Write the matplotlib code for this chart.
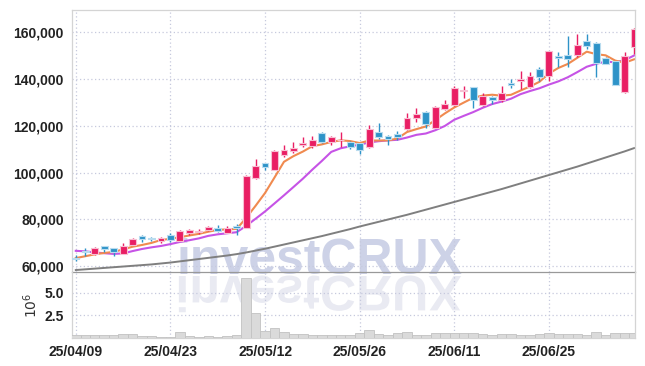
import matplotlib
matplotlib.use('Agg')
import matplotlib.pyplot as plt
import numpy as np
from matplotlib.textpath import TextPath
from matplotlib.patches import PathPatch
from matplotlib.font_manager import FontProperties
from matplotlib.transforms import Affine2D, IdentityTransform
from matplotlib.ticker import FuncFormatter, FixedLocator

dates = ["25/04/09", "25/04/10", "25/04/11", "25/04/14", "25/04/15", "25/04/16", "25/04/17", "25/04/18", "25/04/21", "25/04/22",
         "25/04/23", "25/04/24", "25/04/25", "25/04/28", "25/04/29", "25/04/30", "25/05/02", "25/05/07", "25/05/08", "25/05/09",
         "25/05/12", "25/05/13", "25/05/14", "25/05/15", "25/05/16", "25/05/19", "25/05/20", "25/05/21", "25/05/22", "25/05/23",
         "25/05/26", "25/05/27", "25/05/28", "25/05/29", "25/05/30", "25/06/02", "25/06/04", "25/06/05", "25/06/09", "25/06/10",
         "25/06/11", "25/06/12", "25/06/13", "25/06/16", "25/06/17", "25/06/18", "25/06/19", "25/06/20", "25/06/23", "25/06/24",
         "25/06/25", "25/06/26", "25/06/27", "25/06/30", "25/07/01", "25/07/02", "25/07/03", "25/07/04", "25/07/07", "25/07/08"]

opens = [63600, 66300, 65100, 68700, 67800, 65380, 69100, 73080, 72220, 70940,
         73380, 70940, 74230, 74790, 75510, 76370, 74360, 77220, 76500, 97600,
         104150, 101150, 107560, 109400, 111840, 111410, 116840, 113250, 113800, 113000,
         112560, 111110, 117520, 115690, 116410, 118550, 123500, 126070, 119230, 127220,
         128930, 134790, 136500, 128930, 132480, 131070, 138200, 139310, 136500, 144320,
         141460, 150000, 150430, 150430, 156410, 155550, 148890, 147740, 134620, 153850]

closes = [63300, 66000, 67950, 67400, 66000, 68680, 71800, 71670, 71800, 72220,
          71240, 75210, 75380, 75210, 76790, 75210, 76370, 76240, 98590, 102860,
          102560, 109400, 109830, 110680, 112700, 113980, 113250, 115130, 114100, 111110,
          109700, 118680, 115130, 114400, 115130, 123500, 124960, 120810, 128080, 129230,
          136330, 135340, 131070, 132780, 131070, 134190, 137350, 140170, 141450, 141030,
          152010, 149150, 148720, 154570, 154140, 146750, 146580, 137600, 149870, 161420]

highs = [65000, 67700, 68400, 68800, 68000, 69830, 72220, 73500, 72650, 72400,
         74100, 75510, 76070, 75810, 77220, 77780, 77350, 78080, 99150, 105730,
         104300, 109830, 111840, 113250, 115260, 115690, 117520, 115810, 117520, 113550,
         112800, 120380, 121110, 115900, 117950, 125640, 127520, 126300, 128500, 131070,
         137050, 137050, 136700, 133930, 132700, 137050, 140040, 143590, 143160, 145300,
         152200, 151450, 158420, 159140, 159140, 155700, 149310, 147900, 151710, 161970]

lows = [62300, 64400, 65000, 65980, 64530, 65200, 69000, 70510, 70810, 69960,
        70510, 70800, 73500, 73800, 75210, 74660, 74200, 73380, 76300, 97400,
        101150, 101000, 106840, 108290, 111110, 110430, 112560, 111840, 110850, 110000,
        107860, 110430, 114270, 111840, 113980, 118300, 121800, 119230, 118970, 127000,
        128700, 132050, 127520, 128700, 129360, 130340, 136330, 135640, 136070, 139310,
        139190, 145300, 145300, 149570, 152730, 141030, 146400, 137400, 133930, 150600]

ma5 = [63500, 64300, 65100, 65700, 66130, 67210, 68370, 69110, 69990, 71230,
       71750, 72430, 73170, 73850, 74770, 75560, 75790, 75960, 80640, 85850,
       91320, 97930, 104650, 107070, 109030, 111320, 112090, 113150, 113830, 113510,
       112660, 113740, 113740, 113800, 114610, 117370, 118620, 119760, 122500, 125320,
       127880, 129960, 132010, 132950, 133320, 132890, 133290, 135110, 136850, 138840,
       142400, 144760, 146470, 149100, 151720, 150670, 150150, 147930, 146990, 148440]

ma10 = [66600, 66400, 65900, 65600, 65300, 65500, 66500, 67400, 68100, 68680,
        69480, 70400, 71140, 71920, 73000, 73660, 74110, 74570, 77250, 80310,
        83440, 86860, 90310, 93860, 97440, 101320, 105010, 108900, 110450, 111270,
        111990, 112920, 113450, 113820, 114060, 115020, 116180, 116750, 118150, 119970,
        122630, 124290, 125890, 127730, 129320, 130390, 131630, 133560, 134900, 136080,
        137650, 139030, 140790, 142980, 145280, 146540, 147460, 147200, 148050, 150080]

ma_long = [58400, 58700, 59000, 59300, 59600, 59900, 60200, 60500, 60800, 61200,
           61600, 62100, 62600, 63100, 63600, 64100, 64600, 65200, 65900, 66700,
           67500, 68400, 69300, 70200, 71100, 72000, 72900, 73900, 74900, 75900,
           77000, 78000, 79000, 80000, 81000, 82000, 83100, 84200, 85300, 86400,
           87500, 88600, 89700, 90800, 91900, 93000, 94200, 95400, 96600, 97800,
           99000, 100200, 101400, 102600, 103900, 105200, 106500, 107800, 109100, 110500]

volumes = [0.34, 0.34, 0.34, 0.34, 0.34, 0.49, 0.49, 0.22, 0.22, 0.11,
           0.11, 0.67, 0.26, 0.11, 0.22, 0.11, 0.26, 0.34, 6.6, 2.8,
           0.78, 1.12, 0.71, 0.45, 0.45, 0.37, 0.37, 0.37, 0.37, 0.37,
           0.6, 0.9, 0.49, 0.37, 0.52, 0.67, 0.34, 0.37, 0.52, 0.6,
           0.6, 0.52, 0.52, 0.45, 0.34, 0.45, 0.45, 0.37, 0.34, 0.45,
           0.6, 0.45, 0.45, 0.45, 0.3, 0.67, 0.3, 0.56, 0.56, 0.56]

price_ticks = [60000, 80000, 100000, 120000, 140000, 160000]
vol_ticks = [2.5, 5.0]
vol_tick_labels = ["2.5", "5.0"]
xtick_idx = [0, 10, 20, 30, 40, 50]

UP = '#E91E63'
DOWN = '#2E93C8'
GRID = '#c6c9dd'
TICKFONT = ['Liberation Sans', 'DejaVu Sans']

W, H = 645, 366
fig = plt.figure(figsize=(W / 100, H / 100), dpi=100)
fig.patch.set_facecolor('white')
L, R = 72 / W, 635 / W
ax = fig.add_axes([L, 1 - 272 / H, R - L, (272 - 10) / H])
axv = fig.add_axes([L, 1 - 338 / H, R - L, (338 - 272) / H], sharex=ax)
for a in (ax, axv):
    a.patch.set_alpha(0)

x = np.arange(len(dates))
o = np.array(opens, float)
c = np.array(closes, float)
hi = np.array(highs, float)
lo = np.array(lows, float)
up = c >= o
cols = np.where(up, UP, DOWN)
halo = np.where(up, '#f7bfd2', '#b9dcef')

# moving averages
ax.plot(x, ma_long, color='#7f7f7f', lw=1.4, zorder=2)
ax.plot(x, ma10, color='#c653e6', lw=1.5, zorder=2)
ax.plot(x, ma5, color='#f08a4f', lw=1.5, zorder=2)

# candles
ax.vlines(x, lo, hi, colors=cols, lw=1.0, zorder=3)
bottoms = np.minimum(o, c)
heights = np.maximum(np.abs(c - o), 350)
ax.bar(x, heights, bottom=bottoms, width=0.72, color=cols, edgecolor=halo,
       linewidth=0.8, zorder=4)

ax.set_xlim(-0.4, 59.1)
ax.set_ylim(57560, 169530)
ax.yaxis.set_major_locator(FixedLocator(price_ticks))
ax.yaxis.set_major_formatter(FuncFormatter(lambda v, p: f"{int(v):,}"))

# volume
axv.bar(x, volumes, width=1.0, color='#dadada', edgecolor='#c2c2c2', linewidth=0.6, zorder=3)
axv.set_ylim(0, 7.29)
axv.set_yticks(vol_ticks)
axv.set_yticklabels(vol_tick_labels)
axv.set_ylabel('$10^6$', fontsize=10, color='#333333')
axv.yaxis.set_label_coords(-0.057, 0.5)
axv.set_xticks(xtick_idx)
axv.set_xticklabels([dates[i] for i in xtick_idx])

for a in (ax, axv):
    a.grid(True, color=GRID, linestyle=(0, (1, 2)), linewidth=0.9, zorder=0)
    a.set_axisbelow(True)
    a.tick_params(length=0, pad=6, labelsize=10, labelcolor='#222222')
    for lab in a.get_xticklabels() + a.get_yticklabels():
        lab.set_family(TICKFONT)
        lab.set_fontweight('bold')
    for s in a.spines.values():
        s.set_color('#d4d4d4')
        s.set_linewidth(0.9)
ax.tick_params(labelbottom=False)
ax.spines['bottom'].set_color('#999999')
axv.spines['top'].set_visible(False)
axv.tick_params(axis='x', pad=5)

# watermark
WM_FONT = ['Liberation Sans', 'DejaVu Sans']
fig.text(320 / W, 1 - 274 / H, 'investCRUX', ha='center', va='baseline',
         fontsize=36, fontweight='bold', family=WM_FONT,
         color='#cdd2e7', zorder=-5)
fp = FontProperties(family=WM_FONT, weight='bold')
tp = TextPath((0, 0), 'investCRUX', size=36 * 100 / 72, prop=fp)
ext = tp.get_extents()
tr = Affine2D().translate(-(ext.x0 + ext.x1) / 2, 0).scale(1, -1).translate(320, H - 276) + IdentityTransform()
refl = PathPatch(tp, transform=tr, facecolor='#e9eaf2', edgecolor='none', zorder=-5)
fig.patches.append(refl)
refl.set_figure(fig)

fig.savefig('out.png', dpi=100, facecolor='white')
